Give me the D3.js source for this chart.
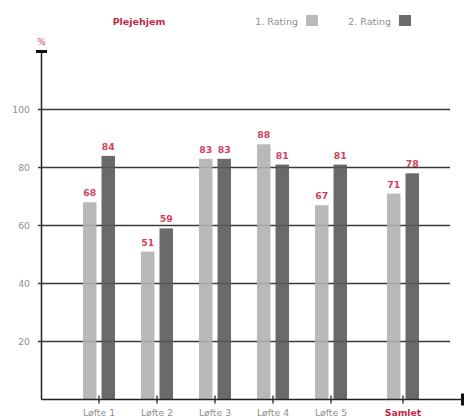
<!DOCTYPE html>
<html lang="da">
<head>
    <meta charset="UTF-8">
    <title>Plejehjem</title>
    <script src="https://d3js.org/d3.v7.min.js"></script>
    <style>
        body { margin: 0; background: #fff; }
        svg { display: block; font-family: "DejaVu Sans", sans-serif; }
        .tick-label { font-size: 9.3px; fill: #909090; }
        .value-label { font-size: 9.3px; fill: #d2405e; font-weight: bold; }
        .title { font-size: 9.5px; fill: #c3284a; font-weight: bold; }
        .legend-label { font-size: 9.5px; fill: #909090; }
    </style>
</head>
<body>
<svg id="chart" width="464" height="418"></svg>
<script>
    // data
    const categories = ["Løfte 1", "Løfte 2", "Løfte 3", "Løfte 4", "Løfte 5", "Samlet"];
    const rating1 = [68, 51, 83, 88, 67, 71];
    const rating2 = [84, 59, 83, 81, 81, 78];
    const seriesNames = ["1. Rating", "2. Rating"];
    const yTicks = [20, 40, 60, 80, 100];

    // bars are slightly see-through so the grid shows faintly
    const colors = ["#b1b1b1", "#5a5a5a"];
    const legendColors = ["#b9b9b9", "#6b6b6b"];
    const svg = d3.select("#chart");

    const y = d3.scaleLinear().domain([0, 120]).range([399.5, 51.5]);

    // first five groups evenly spaced, "Samlet" set a bit apart
    const xIdx = d3.scaleLinear().domain([0, 4]).range([99, 331]);
    const x = i => xIdx(i) + (i === categories.length - 1 ? 14 : 0);

    const barW = 13.5, gap = 2.5;

    // grid lines
    svg.append("g")
        .selectAll("line")
        .data(yTicks)
        .join("line")
        .attr("x1", 38).attr("x2", 450)
        .attr("y1", d => y(d)).attr("y2", d => y(d))
        .attr("stroke", "#3a3a3a").attr("stroke-width", 1.3);

    svg.append("g")
        .selectAll("text")
        .data(yTicks)
        .join("text")
        .attr("class", "tick-label")
        .attr("x", 30).attr("y", d => y(d) + 3.3)
        .attr("text-anchor", "end")
        .text(d => d);

    // bars
    [rating1, rating2].forEach((vals, s) => {
        const bx = i => s === 0 ? x(i) - gap - barW : x(i) + gap;
        svg.append("g")
            .selectAll("rect")
            .data(vals)
            .join("rect")
            .attr("x", (d, i) => bx(i))
            .attr("y", d => y(d))
            .attr("width", barW)
            .attr("height", d => y(0) - y(d))
            .attr("fill", colors[s])
            .attr("fill-opacity", 0.9);
        svg.append("g")
            .selectAll("text")
            .data(vals)
            .join("text")
            .attr("class", "value-label")
            .attr("x", (d, i) => bx(i) + barW / 2)
            .attr("y", d => y(d) - 6)
            .attr("text-anchor", "middle")
            .text(d => d);
    });

    // axes
    svg.append("line")
        .attr("x1", 41.5).attr("x2", 41.5)
        .attr("y1", y(120)).attr("y2", y(0))
        .attr("stroke", "#222").attr("stroke-width", 1.5);
    svg.append("line")
        .attr("x1", 36).attr("x2", 47)
        .attr("y1", y(120)).attr("y2", y(120))
        .attr("stroke", "#111").attr("stroke-width", 3);
    svg.append("text")
        .attr("x", 41.5).attr("y", 45)
        .attr("text-anchor", "middle")
        .attr("font-size", 8.5).attr("fill", "#d2405e")
        .text("%");

    svg.append("line")
        .attr("x1", 41.5).attr("x2", 462)
        .attr("y1", y(0)).attr("y2", y(0))
        .attr("stroke", "#222").attr("stroke-width", 1.5);
    svg.append("line")
        .attr("x1", 462.5).attr("x2", 462.5)
        .attr("y1", y(0) - 6).attr("y2", y(0) + 6)
        .attr("stroke", "#111").attr("stroke-width", 3);

    svg.append("g")
        .selectAll("line")
        .data(categories)
        .join("line")
        .attr("x1", (d, i) => x(i)).attr("x2", (d, i) => x(i))
        .attr("y1", y(0) - 4).attr("y2", y(0) + 4)
        .attr("stroke", "#222").attr("stroke-width", 1.3);

    svg.append("g")
        .selectAll("text")
        .data(categories)
        .join("text")
        .attr("class", "tick-label")
        .attr("x", (d, i) => x(i))
        .attr("y", 416)
        .attr("text-anchor", "middle")
        .style("fill", (d, i) => i === categories.length - 1 ? "#c3284a" : null)
        .attr("font-weight", (d, i) => i === categories.length - 1 ? "bold" : null)
        .text(d => d);

    // title and legend
    svg.append("text")
        .attr("class", "title")
        .attr("x", 139).attr("y", 25)
        .attr("text-anchor", "middle")
        .text("Plejehjem");

    const legendX = [273, 366];
    seriesNames.forEach((name, s) => {
        svg.append("text")
            .attr("class", "legend-label")
            .attr("x", legendX[s] + 25).attr("y", 25)
            .attr("text-anchor", "end")
            .text(name);
        svg.append("rect")
            .attr("x", legendX[s] + 33).attr("y", 15)
            .attr("width", 12).attr("height", 11)
            .attr("fill", legendColors[s]);
    });
</script>
</body>
</html>
